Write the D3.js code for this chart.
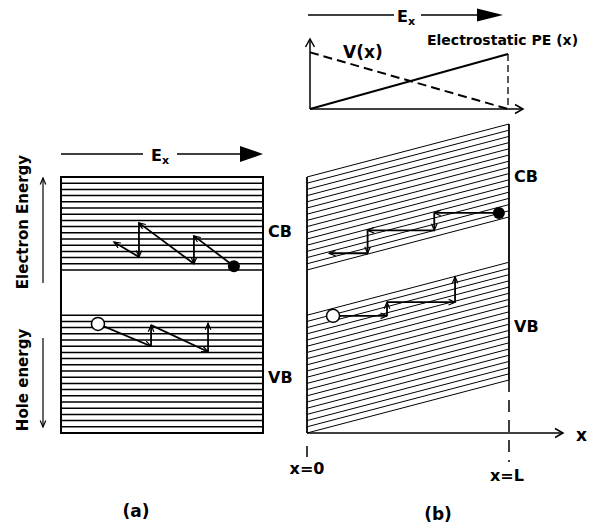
<!DOCTYPE html>
<html>
<head>
<meta charset="utf-8">
<script src="https://cdn.jsdelivr.net/npm/d3@7"></script>
<style>
  body { margin: 0; background: #fff; }
  text { font-family: 'DejaVu Sans', sans-serif; font-weight: bold; fill: #000; }
</style>
</head>
<body>
<svg id="chart" width="591" height="531"></svg>
<script>
// band edges in units of level spacing (one hatch line per unit)
const bandNames = ['VB', 'CB'];
const bandLow = [0, 26.3];
const bandHigh = [19, 41.3];
const fieldTilt = 8.55; // band rise from x=0 to x=L in panel (b)

// scattering paths: [position along sample (0..1), energy]
const electronPathA = [[0.856, 26.9], [0.658, 31.8], [0.658, 27.3], [0.386, 33.9], [0.386, 28.4], [0.262, 30.8]];
const holePathA = [[0.183, 17.6], [0.446, 14.0], [0.446, 17.4], [0.728, 13.1], [0.728, 17.7]];
const electronPathB = [[0.95, 35.5], [0.63, 35.5], [0.63, 32.7], [0.30, 32.7], [0.30, 29.0], [0.11, 29.0]];
const holePathB = [[0.129, 18.9], [0.396, 18.9], [0.396, 21.1], [0.733, 21.1], [0.733, 25.2]];

// top sketch: potential energy and V(x)
const sketchX = [0, 1];
const peValues = [0, 1];
const vValues = [1.03, 0];

const svg = d3.select('#chart');

const yE = d3.scaleLinear().domain([0, 41.3]).range([433, 177]);
const xA = d3.scaleLinear().domain([0, 1]).range([61, 263]);
const xB = d3.scaleLinear().domain([0, 1]).range([307, 509]);
const xT = d3.scaleLinear().domain([0, 1]).range([310, 508]);
const yT = d3.scaleLinear().domain([0, 1]).range([109, 54]);

const defs = svg.append('defs');
function marker(id, d, w) {
  defs.append('marker')
    .attr('id', id)
    .attr('viewBox', '-12 -7 14 14')
    .attr('markerWidth', 14)
    .attr('markerHeight', 14)
    .attr('refX', 0)
    .attr('refY', 0)
    .attr('markerUnits', 'userSpaceOnUse')
    .attr('orient', 'auto')
    .append('path')
    .attr('d', d)
    .attr('fill', 'none')
    .attr('stroke', 'black')
    .attr('stroke-width', w);
}
marker('tip', 'M-6.5,-2.8L0,0L-6.5,2.8', 1.2);
marker('axis', 'M-8,-4.5L0,0L-8,4.5', 1.5);

function line(x1, y1, x2, y2, w, extra) {
  const l = svg.append('line')
    .attr('x1', x1).attr('y1', y1)
    .attr('x2', x2).attr('y2', y2)
    .attr('stroke', 'black')
    .attr('stroke-width', w);
  if (extra) extra(l);
  return l;
}

function fieldArrow(x0, x1, x2, x3, head, y, hh, tx) {
  line(x0, y, x1, y, 1.6);
  line(x2, y, head, y, 1.6);
  svg.append('path')
    .attr('d', `M${head},${y - hh}L${x3},${y}L${head},${y + hh}Z`)
    .attr('fill', 'black');
  const t = svg.append('text').attr('x', tx).attr('y', y + 7).attr('font-size', 16).text('E');
  t.append('tspan').attr('font-size', 11).attr('dy', 3).text('x');
}

function drawPath(pts, xs, yFn) {
  for (let i = 0; i < pts.length - 1; i++) {
    line(xs(pts[i][0]), yFn(pts[i][1]), xs(pts[i + 1][0]), yFn(pts[i + 1][1]), 1.8,
      (l) => l.attr('marker-end', 'url(#tip)'));
  }
}

function label(x, y, txt, size, anchor) {
  return svg.append('text')
    .attr('x', x).attr('y', y)
    .attr('font-size', size)
    .attr('text-anchor', anchor || 'start')
    .text(txt);
}

// ---------- panel (a) ----------
fieldArrow(61, 143, 177, 263, 240, 154, 8, 151);

bandNames.forEach((name, i) => {
  d3.range(bandLow[i], bandHigh[i] + 0.001, 1).forEach((e) => {
    line(xA(0), yE(e), xA(1), yE(e), 1.5);
  });
});
svg.append('rect')
  .attr('x', xA(0)).attr('y', yE(41.3))
  .attr('width', xA(1) - xA(0)).attr('height', yE(0) - yE(41.3))
  .attr('fill', 'none').attr('stroke', 'black').attr('stroke-width', 2);

drawPath(electronPathA, xA, yE);
drawPath(holePathA, xA, yE);
svg.append('circle')
  .attr('cx', xA(electronPathA[0][0])).attr('cy', yE(electronPathA[0][1]))
  .attr('r', 6).attr('fill', 'black');
svg.append('circle')
  .attr('cx', xA(holePathA[0][0])).attr('cy', yE(holePathA[0][1]))
  .attr('r', 6.5).attr('fill', 'white').attr('stroke', 'black').attr('stroke-width', 1.5);

label(268, 237, 'CB', 16);
label(268, 383, 'VB', 16);

// energy direction labels
line(43, 283, 43, 178, 1.2, (l) => l.attr('marker-end', 'url(#tip)'));
line(43, 338, 43, 427, 1.2, (l) => l.attr('marker-end', 'url(#tip)'));
label(0, 0, 'Electron Energy', 15, 'middle').attr('transform', 'translate(28,222) rotate(-90)');
label(0, 0, 'Hole energy', 15, 'middle').attr('transform', 'translate(28,380) rotate(-90)');

label(136, 517, '(a)', 17, 'middle');

// ---------- panel (b) ----------
fieldArrow(308, 394, 421, 503, 477, 15, 6.5, 397);

// top sketch
line(xT(0), yT(0), xT(0), 39, 1.5, (l) => l.attr('marker-end', 'url(#axis)'));
line(xT(0), yT(0), 523, yT(0), 1.5, (l) => l.attr('marker-end', 'url(#axis)'));
const sketchLine = d3.line().x((d, i) => xT(sketchX[i])).y((d) => yT(d));
svg.append('path').attr('d', sketchLine(peValues))
  .attr('fill', 'none').attr('stroke', 'black').attr('stroke-width', 2);
svg.append('path').attr('d', sketchLine(vValues))
  .attr('fill', 'none').attr('stroke', 'black').attr('stroke-width', 2)
  .attr('stroke-dasharray', '9,5');
line(xT(1), yT(peValues[1]), xT(1), yT(0), 1.3, (l) => l.attr('stroke-dasharray', '7,4'));
label(343, 58, 'V(x)', 17);
label(427, 45, 'Electrostatic PE (x)', 14);

// tilted bands
bandNames.forEach((name, i) => {
  d3.range(bandLow[i], bandHigh[i] + 0.001, 1).forEach((e) => {
    line(xB(0), yE(e), xB(1), yE(e + fieldTilt), 1);
  });
});
line(xB(0), yE(41.3), xB(0), yE(0), 1.8);
line(xB(1), yE(41.3 + fieldTilt), xB(1), yE(fieldTilt), 1.8);

// x axis and dashed markers
line(xB(0), yE(0), 563, yE(0), 1.5, (l) => l.attr('marker-end', 'url(#axis)'));
line(xB(0), 446, xB(0), 457, 1.5);
line(xB(1), yE(fieldTilt), xB(1), 462, 1.5, (l) => l.attr('stroke-dasharray', '12,8'));

drawPath(electronPathB, xB, yE);
drawPath(holePathB, xB, yE);
svg.append('circle')
  .attr('cx', xB(electronPathB[0][0])).attr('cy', yE(electronPathB[0][1]))
  .attr('r', 6).attr('fill', 'black');
svg.append('circle')
  .attr('cx', xB(holePathB[0][0])).attr('cy', yE(holePathB[0][1]))
  .attr('r', 6.5).attr('fill', 'white').attr('stroke', 'black').attr('stroke-width', 1.5);

label(514, 182, 'CB', 16);
label(514, 332, 'VB', 16);
label(576, 441, 'x', 17);
label(307, 474, 'x=0', 16, 'middle');
label(507, 481, 'x=L', 16, 'middle');
label(438, 520, '(b)', 17, 'middle');
</script>
</body>
</html>
